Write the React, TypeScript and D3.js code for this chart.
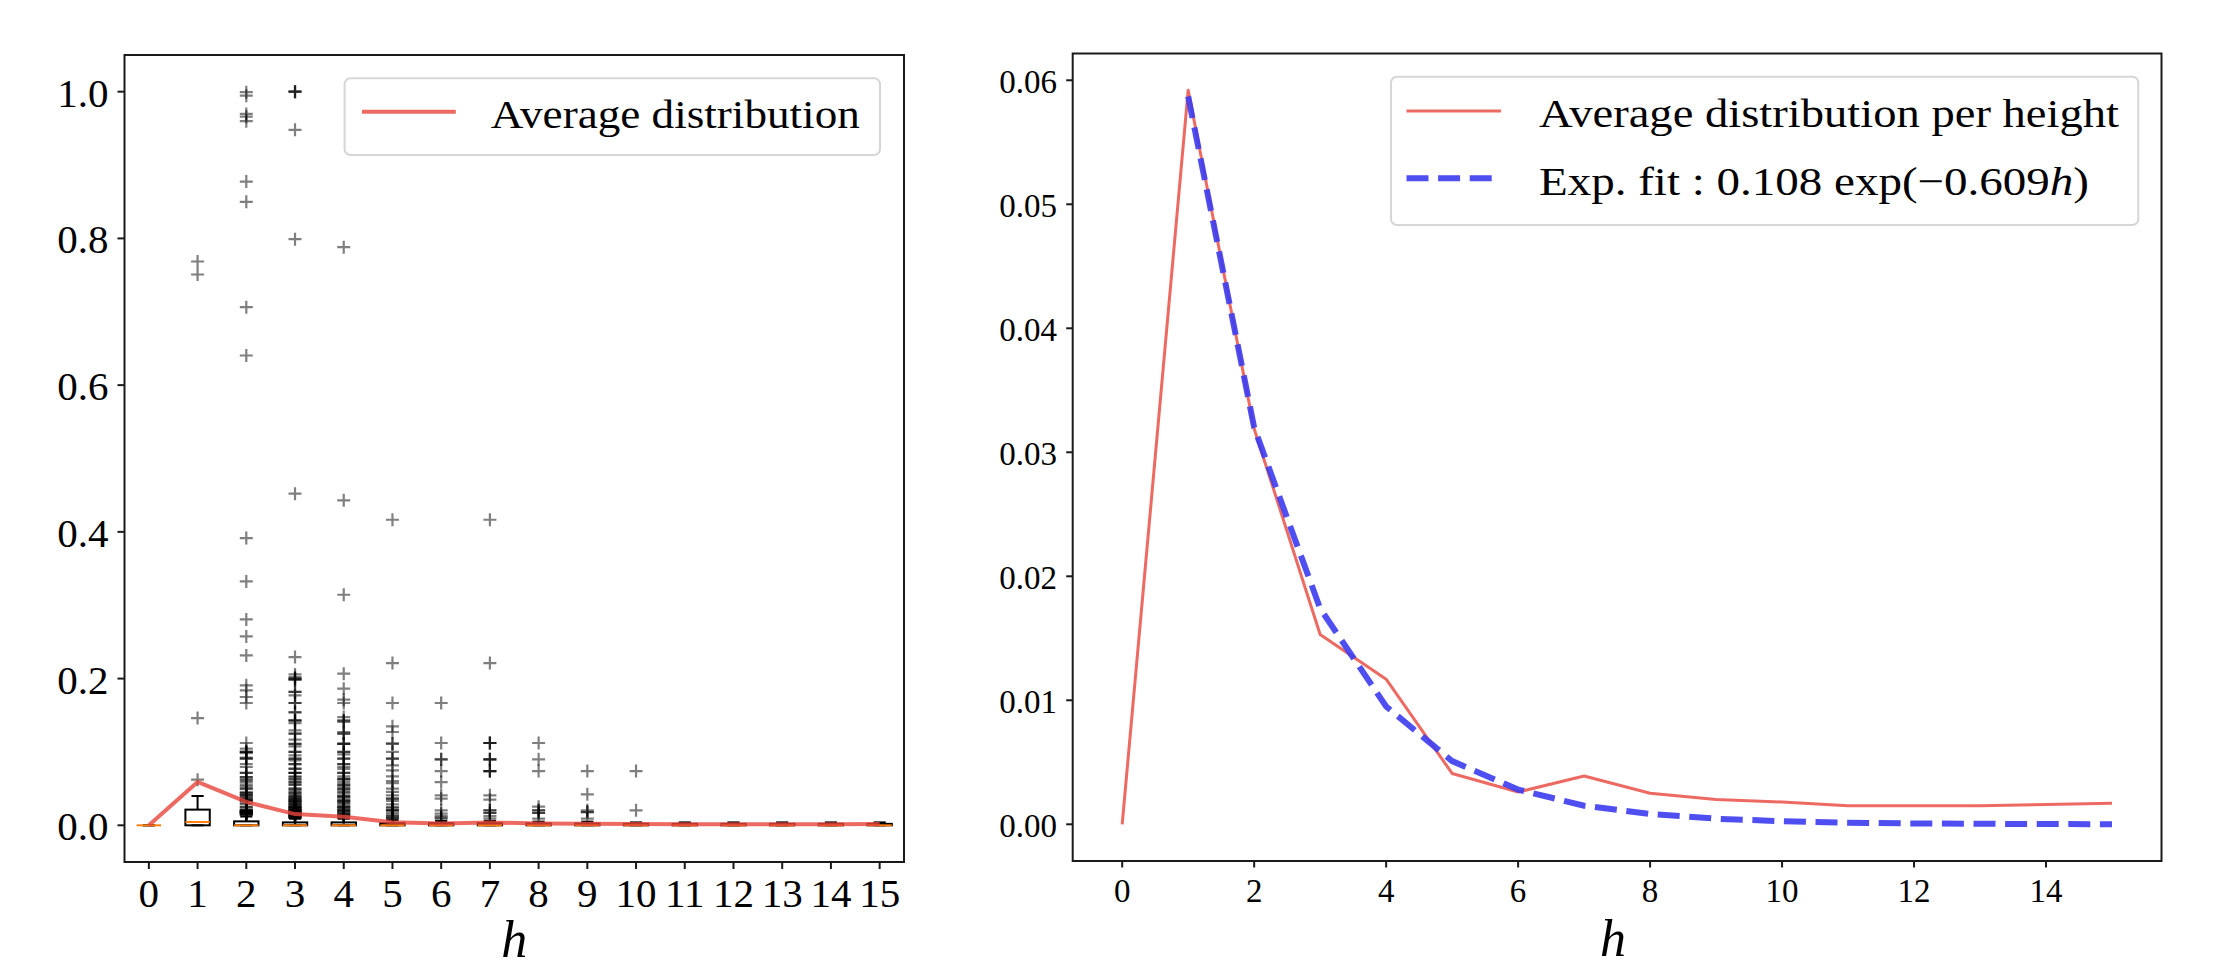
import React from 'react';
import * as d3 from 'd3';

// ---------- data ----------
const heights = [0, 1, 2, 3, 4, 5, 6, 7, 8, 9, 10, 11, 12, 13, 14, 15];
const avgDist = [0, 0.0592, 0.0319, 0.0153, 0.0117, 0.0041, 0.0026, 0.0039, 0.0025, 0.002, 0.0018, 0.0015, 0.0015, 0.0015, 0.0016, 0.0017];
const fitHeights = [1, 2, 3, 4, 5, 6, 7, 8, 9, 10, 11, 12, 13, 14, 15];
const fitValues = [0.0587, 0.032, 0.0174, 0.0095, 0.0051, 0.0028, 0.0015, 0.00083, 0.00045, 0.00025, 0.00013, 0.00007, 0.00004, 0.00002, 0.00001];

const boxQ1 = [0, 0, 0, 0, 0, 0, 0, 0, 0, 0, 0, 0, 0, 0, 0, 0];
const boxMedian = [0, 0.0045, 0, 0, 0, 0, 0, 0, 0, 0, 0, 0, 0, 0, 0, 0];
const boxQ3 = [0, 0.0214, 0.0054, 0.004, 0.004, 0.003, 0.003, 0.003, 0.0025, 0.0025, 0.002, 0.002, 0.002, 0.002, 0.002, 0.002];
const whiskerLow = [0, 0, 0, 0, 0, 0, 0, 0, 0, 0, 0, 0, 0, 0, 0, 0];
const whiskerHigh = [0, 0.04, 0.012, 0.009, 0.009, 0.007, 0.006, 0.006, 0.005, 0.005, 0.004, 0.004, 0.004, 0.004, 0.004, 0.004];

const fliersH1 = [0.0622, 0.1462, 0.7508, 0.7685];
const fliersH2 = [0.9993, 0.9946, 0.9697, 0.966, 0.9598, 0.8775, 0.8498, 0.7063, 0.6404, 0.3915, 0.3325, 0.2807, 0.2575, 0.2316, 0.1908, 0.184, 0.1749, 0.1667, 0.1122, 0.1045, 0.1, 0.1, 0.1, 0.0985, 0.0922, 0.0909, 0.0909, 0.0833, 0.0795, 0.0714, 0.0714, 0.0658, 0.0658, 0.0625, 0.0613, 0.0588, 0.0556, 0.0531, 0.05, 0.05, 0.0455, 0.044, 0.044, 0.0417, 0.0409, 0.0409, 0.0385, 0.037, 0.0357, 0.0345, 0.034, 0.0333, 0.0333, 0.0303, 0.0286, 0.025, 0.025, 0.0222, 0.0204, 0.0204, 0.0204, 0.0196, 0.0192, 0.0185, 0.0182, 0.0182, 0.0182, 0.0179, 0.0167, 0.0167, 0.0159, 0.0159, 0.0159, 0.0143, 0.0143];
const fliersH3 = [1.0, 1.0, 1.0, 0.948, 0.799, 0.452, 0.2293, 0.2057, 0.2021, 0.2, 0.2, 0.1985, 0.1985, 0.1818, 0.1818, 0.1771, 0.1667, 0.1667, 0.1544, 0.1538, 0.1431, 0.1429, 0.1429, 0.1394, 0.1294, 0.125, 0.125, 0.1167, 0.1111, 0.1111, 0.1076, 0.1, 0.1, 0.0954, 0.0909, 0.0909, 0.0886, 0.0833, 0.0833, 0.0772, 0.0769, 0.0714, 0.0714, 0.0713, 0.0667, 0.0658, 0.0625, 0.0625, 0.059, 0.0588, 0.0556, 0.0556, 0.05, 0.05, 0.0476, 0.0455, 0.0435, 0.0431, 0.04, 0.04, 0.0385, 0.037, 0.0363, 0.0357, 0.0345, 0.0333, 0.0333, 0.0323, 0.0318, 0.0303, 0.0294, 0.0286, 0.0278, 0.027, 0.0256, 0.025, 0.025, 0.0244, 0.0238, 0.0227, 0.0222, 0.0217, 0.0208, 0.02, 0.02, 0.0196, 0.0192, 0.0185, 0.0182, 0.0175, 0.0169, 0.0164, 0.0159, 0.0156, 0.0152, 0.0147, 0.0143, 0.0139, 0.0133, 0.0128, 0.0122, 0.0118, 0.0114, 0.0108, 0.0104, 0.0101];
const fliersH4 = [0.788, 0.443, 0.3143, 0.2067, 0.1862, 0.1712, 0.1667, 0.1476, 0.1429, 0.1429, 0.1408, 0.1272, 0.125, 0.125, 0.1113, 0.1111, 0.1111, 0.1, 0.1, 0.0967, 0.0909, 0.0909, 0.0833, 0.0833, 0.0795, 0.0769, 0.0714, 0.0714, 0.0667, 0.0636, 0.0625, 0.0625, 0.0588, 0.0556, 0.0556, 0.0531, 0.05, 0.05, 0.0476, 0.0454, 0.0435, 0.04, 0.04, 0.0386, 0.037, 0.0345, 0.0333, 0.0333, 0.0318, 0.0303, 0.0286, 0.0263, 0.025, 0.025, 0.0238, 0.0222, 0.0204, 0.02, 0.02, 0.0185, 0.0169, 0.0159, 0.0154, 0.0143, 0.0133, 0.0125, 0.0111, 0.01];
const fliersH5 = [0.4165, 0.2212, 0.1667, 0.1349, 0.1272, 0.1113, 0.1113, 0.1, 0.0908, 0.0908, 0.0817, 0.0749, 0.0667, 0.0604, 0.0576, 0.05, 0.0455, 0.0409, 0.0363, 0.0363, 0.0333, 0.0286, 0.025, 0.0233, 0.0204, 0.0204, 0.0204, 0.0168, 0.0143, 0.0125, 0.0111, 0.01, 0.0091];
const fliersH6 = [0.1667, 0.1122, 0.0899, 0.0899, 0.0739, 0.059, 0.0409, 0.0363, 0.0204, 0.0159, 0.0125, 0.0106, 0.0091];
const fliersH7 = [0.4165, 0.2212, 0.1122, 0.1122, 0.1122, 0.0899, 0.0899, 0.0899, 0.0739, 0.0739, 0.0739, 0.0409, 0.0349, 0.0204, 0.0204, 0.0168, 0.0168, 0.0125, 0.0091];
const fliersH8 = [0.1122, 0.0899, 0.0739, 0.0254, 0.0204, 0.0204, 0.0168, 0.0168, 0.0091];
const fliersH9 = [0.0739, 0.0422, 0.0204, 0.018, 0.018, 0.0091];
const fliersH10 = [0.0739, 0.0204];
const fliersByHeight = [[], fliersH1, fliersH2, fliersH3, fliersH4, fliersH5, fliersH6, fliersH7, fliersH8, fliersH9, fliersH10, [], [], [], [], []];

const leftYTicks = [0, 0.2, 0.4, 0.6, 0.8, 1.0];
const leftYLabels = ['0.0', '0.2', '0.4', '0.6', '0.8', '1.0'];
const rightYTicks = [0, 0.01, 0.02, 0.03, 0.04, 0.05, 0.06];
const rightYLabels = ['0.00', '0.01', '0.02', '0.03', '0.04', '0.05', '0.06'];
const rightXTicks = [0, 2, 4, 6, 8, 10, 12, 14];

const legendLeft = 'Average distribution';
const legendRight1 = 'Average distribution per height';
const legendRight2a = 'Exp.  fit : 0.108 exp(\u22120.609';
const legendRight2b = 'h';
const legendRight2c = ')';
const xLabel = 'h';

// ---------- style ----------
const FONT = "'Liberation Serif', 'Times New Roman', serif";
const RED = '#e8453c';
const BLUE = '#3c3cf0';
const ORANGE = '#ff7f0e';
const SPINE = '#1a1a1a';

const L = { x0: 124.5, x1: 904, y0: 55, y1: 862 };
const R = { x0: 1072.7, x1: 2161.5, y0: 53.5, y1: 861 };

function plusPath(cx: number, cy: number, s: number) {
  return `M${cx - s},${cy}H${cx + s}M${cx},${cy - s}V${cy + s}`;
}

function LeftPanel() {
  const x = d3.scaleLinear().domain([-0.5, 15.5]).range([L.x0, L.x1]);
  const y = d3.scaleLinear().domain([-0.05, 1.05]).range([L.y1, L.y0]);
  const bw = x(0.25) - x(0);
  const cw = x(0.125) - x(0);
  const line = d3.line<number>().x((_, i) => x(heights[i])).y((d) => y(d));
  return (
    <g>
      {heights.map((h, i) => (
        <g key={'b' + h} stroke="#000" strokeWidth={2} fill="none">
          <rect x={x(h) - bw} y={y(boxQ3[i])} width={2 * bw} height={Math.max(0, y(boxQ1[i]) - y(boxQ3[i]))} />
          <line x1={x(h)} x2={x(h)} y1={y(boxQ3[i])} y2={y(whiskerHigh[i])} />
          <line x1={x(h)} x2={x(h)} y1={y(boxQ1[i])} y2={y(whiskerLow[i])} />
          <line x1={x(h) - cw} x2={x(h) + cw} y1={y(whiskerHigh[i])} y2={y(whiskerHigh[i])} />
          <line x1={x(h) - cw} x2={x(h) + cw} y1={y(whiskerLow[i])} y2={y(whiskerLow[i])} />
        </g>
      ))}
      {heights.map((h, i) => (
        <g key={'f' + h} stroke="#000" strokeWidth={2.2} strokeOpacity={0.5} fill="none">
          {fliersByHeight[i].map((v, j) => (
            <path key={j} d={plusPath(x(h), y(v), 6.5)} />
          ))}
        </g>
      ))}
      {heights.map((h, i) => (
        <line key={'m' + h} x1={x(h) - bw} x2={x(h) + bw} y1={y(boxMedian[i])} y2={y(boxMedian[i])} stroke={ORANGE} strokeWidth={2} />
      ))}
      <path d={line(avgDist) || ''} fill="none" stroke={RED} strokeOpacity={0.8} strokeWidth={4} strokeLinejoin="round" />
      <rect x={L.x0} y={L.y0} width={L.x1 - L.x0} height={L.y1 - L.y0} fill="none" stroke={SPINE} strokeWidth={2} />
      {leftYTicks.map((t, i) => (
        <g key={'yt' + i}>
          <line x1={L.x0 - 7} x2={L.x0} y1={y(t)} y2={y(t)} stroke={SPINE} strokeWidth={2} />
          <text x={108.5} y={y(t) + 15} textAnchor="end" fontSize={41} fontFamily={FONT} fill="#000">{leftYLabels[i]}</text>
        </g>
      ))}
      {heights.map((h) => (
        <g key={'xt' + h}>
          <line x1={x(h)} x2={x(h)} y1={L.y1} y2={L.y1 + 7} stroke={SPINE} strokeWidth={2} />
          <text x={x(h)} y={906.5} textAnchor="middle" fontSize={41} fontFamily={FONT} fill="#000">{String(h)}</text>
        </g>
      ))}
      <text x={(L.x0 + L.x1) / 2} y={957} textAnchor="middle" fontSize={52} fontStyle="italic" fontFamily={FONT} fill="#000">{xLabel}</text>
      <rect x={344.6} y={78.3} width={880 - 344.6} height={155 - 78.3} rx={6} fill="#fff" fillOpacity={0.8} stroke="#d6d6d6" strokeWidth={2} />
      <line x1={362} x2={455.8} y1={111.7} y2={111.7} stroke={RED} strokeOpacity={0.8} strokeWidth={4} />
      <text x={490.8} y={128.3} fontSize={41} fontFamily={FONT} fill="#000" textLength={369} lengthAdjust="spacingAndGlyphs">{legendLeft}</text>
    </g>
  );
}

function RightPanel() {
  const x = d3.scaleLinear().domain([-0.75, 15.75]).range([R.x0, R.x1]);
  const y = d3.scaleLinear().domain([-0.00296, 0.06216]).range([R.y1, R.y0]);
  const avgLine = d3.line<number>().x((_, i) => x(heights[i])).y((d) => y(d));
  const fitLine = d3.line<number>().x((_, i) => x(fitHeights[i])).y((d) => y(d));
  return (
    <g>
      <path d={avgLine(avgDist) || ''} fill="none" stroke={RED} strokeOpacity={0.8} strokeWidth={3} strokeLinejoin="round" />
      <path d={fitLine(fitValues) || ''} fill="none" stroke={BLUE} strokeOpacity={0.9} strokeWidth={6} strokeDasharray="22,9.6" />
      <rect x={R.x0} y={R.y0} width={R.x1 - R.x0} height={R.y1 - R.y0} fill="none" stroke={SPINE} strokeWidth={2} />
      {rightYTicks.map((t, i) => (
        <g key={'yt' + i}>
          <line x1={R.x0 - 6.5} x2={R.x0} y1={y(t)} y2={y(t)} stroke={SPINE} strokeWidth={2} />
          <text x={1057} y={y(t) + 12.5} textAnchor="end" fontSize={33} fontFamily={FONT} fill="#000">{rightYLabels[i]}</text>
        </g>
      ))}
      {rightXTicks.map((t) => (
        <g key={'xt' + t}>
          <line x1={x(t)} x2={x(t)} y1={R.y1} y2={R.y1 + 6.5} stroke={SPINE} strokeWidth={2} />
          <text x={x(t)} y={901.5} textAnchor="middle" fontSize={33} fontFamily={FONT} fill="#000">{String(t)}</text>
        </g>
      ))}
      <text x={(R.x0 + R.x1) / 2 - 4} y={955.5} textAnchor="middle" fontSize={52} fontStyle="italic" fontFamily={FONT} fill="#000">{xLabel}</text>
      <rect x={1391} y={76.7} width={2138.3 - 1391} height={225 - 76.7} rx={6} fill="#fff" fillOpacity={0.8} stroke="#d6d6d6" strokeWidth={2} />
      <line x1={1406.5} x2={1501} y1={111} y2={111} stroke={RED} strokeOpacity={0.8} strokeWidth={3} />
      <line x1={1406.5} x2={1501} y1={178.3} y2={178.3} stroke={BLUE} strokeOpacity={0.9} strokeWidth={6} strokeDasharray="22,9.6" />
      <text x={1539} y={126.7} fontSize={41} fontFamily={FONT} fill="#000" textLength={580} lengthAdjust="spacingAndGlyphs">{legendRight1}</text>
      <text x={1539} y={195} fontSize={41} fontFamily={FONT} fill="#000" textLength={550} lengthAdjust="spacingAndGlyphs">
        {legendRight2a}
        <tspan fontStyle="italic">{legendRight2b}</tspan>
        {legendRight2c}
      </text>
    </g>
  );
}

export default function App() {
  return (
    <svg width={2230} height={978} viewBox="0 0 2230 978" style={{ position: 'absolute', left: 0, top: 0, background: '#fff' }}>
      <rect x={0} y={0} width={2230} height={978} fill="#fff" />
      <LeftPanel />
      <RightPanel />
    </svg>
  );
}
